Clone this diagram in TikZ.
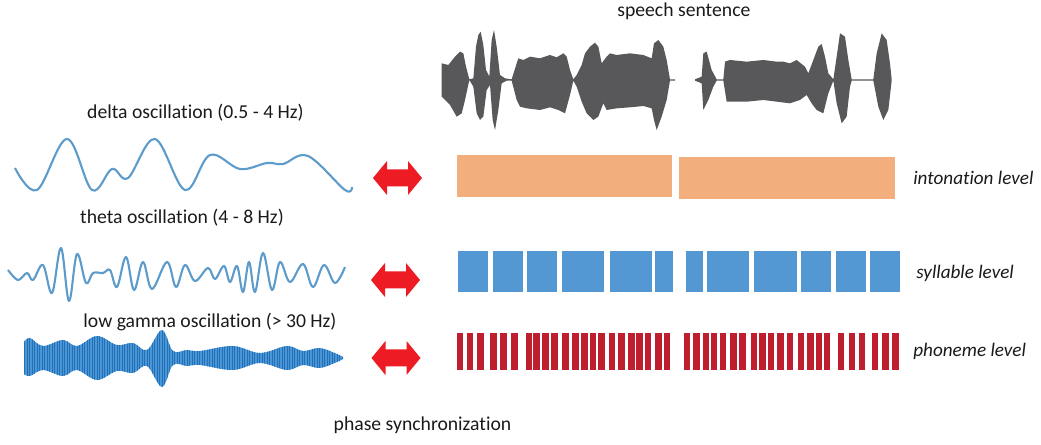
\documentclass[tikz,border=0pt]{standalone}
\usepackage{fontspec}
\setmainfont{Carlito}[Ligatures=NoCommon]
\definecolor{orangebar}{HTML}{F2AF7D}
\definecolor{bluebar}{HTML}{5498D3}
\definecolor{redbar}{HTML}{BE1E2D}
\definecolor{arrowred}{HTML}{ED1C24}
\definecolor{wavegray}{HTML}{58585A}
\definecolor{waveblue}{HTML}{5D9BCB}
\definecolor{gammalight}{HTML}{4A95D4}
\definecolor{gammadark}{HTML}{2370B8}
\definecolor{txt}{HTML}{1A1A1A}
\begin{document}
\begin{tikzpicture}[x=0.02cm,y=-0.02cm,
  lbl/.style={font=\fontsize{11.2}{13}\selectfont, text=txt, inner sep=0pt, anchor=base},
  lvl/.style={font=\fontsize{10.9}{13}\selectfont\itshape, text=txt, inner sep=0pt, anchor=base west},
  dbl/.pic={\fill[arrowred] (-24.5,0)--(-10.5,-17)--(-10.5,-8.5)--(10.5,-8.5)--(10.5,-17)--(24.5,0)--(10.5,17)--(10.5,8.5)--(-10.5,8.5)--(-10.5,17)--cycle;},
  osc/.style={draw=waveblue, line width=1.2pt, line join=round}]
\useasboundingbox (0,0) rectangle (1041,445);

% labels
\node[lbl, anchor=base west] (speech) at (617,16.7) {speech sentence};
\node[lbl] (delta) at (195.5,119) {delta oscillation (0.5 - 4 Hz)};
\node[lbl] (theta) at (182,224) {theta oscillation (4 - 8 Hz)};
\node[lbl] (gamma) at (210,328) {low gamma oscillation (> 30 Hz)};
\node[lbl] (phase) at (422.5,431) {phase synchronization};
\node[lvl] (inton) at (913,185) {intonation level};
\node[lvl] (syll) at (916,279) {syllable level};
\node[lvl] (phon) at (913,357) {phoneme level};

% speech waveform
\begin{scope}[shift={(430,20)}, scale=1/3]
\fill[wavegray] (35,130)--(55,135)--(75,110)--(90,95)--(100,100)--(108,140)--(118,178)--(130,175)--(138,80)--(145,45)--(152,35)--(160,75)--(168,150)--(178,170)--(185,60)--(192,30)--(200,80)--(210,165)--(225,175)--(245,178)--(260,130)--(265,115)--(280,120)--(300,110)--(330,115)--(360,105)--(380,112)--(400,100)--(410,110)--(420,150)--(430,178)--(440,165)--(455,135)--(465,100)--(480,80)--(495,68)--(505,80)--(515,130)--(530,110)--(540,100)--(560,105)--(600,100)--(640,105)--(665,115)--(672,70)--(685,60)--(700,80)--(710,120)--(720,178)--(735,178)
--(735,182)--(720,182)--(710,240)--(695,290)--(680,330)--(672,300)--(665,265)--(640,258)--(600,262)--(560,265)--(530,270)--(520,250)--(505,290)--(490,300)--(470,280)--(455,245)--(440,200)--(430,182)--(420,225)--(405,280)--(385,270)--(360,262)--(330,270)--(290,265)--(270,260)--(260,240)--(245,182)--(230,182)--(215,190)--(205,270)--(195,330)--(188,300)--(180,195)--(170,210)--(160,290)--(150,300)--(140,280)--(130,200)--(118,180)--(105,240)--(95,280)--(80,290)--(60,255)--(35,230)--cycle;
\fill[wavegray] (795,178)--(815,170)--(820,100)--(830,95)--(845,150)--(860,178)--(880,178)--(885,125)--(900,120)--(950,125)--(1000,120)--(1040,125)--(1060,125)--(1080,130)--(1100,120)--(1125,140)--(1135,160)--(1150,120)--(1165,80)--(1175,72)--(1185,110)--(1195,160)--(1210,178)--(1220,110)--(1230,40)--(1245,50)--(1255,120)--(1265,178)--(1330,178)--(1340,100)--(1355,40)--(1370,60)--(1380,130)--(1385,178)
--(1385,182)--(1375,270)--(1360,300)--(1345,260)--(1330,182)--(1265,182)--(1260,200)--(1250,290)--(1235,310)--(1220,250)--(1210,182)--(1195,220)--(1180,280)--(1160,270)--(1145,250)--(1130,225)--(1110,240)--(1080,250)--(1040,245)--(1000,240)--(950,245)--(890,245)--(880,182)--(860,182)--(850,200)--(835,240)--(820,270)--(815,190)--(795,182)--cycle;
\end{scope}

% intonation level
\fill[orangebar] (457,155) rectangle (672,197);
\fill[orangebar] (679,157) rectangle (895,199);

% syllable level
\foreach \a/\b in {458/488,493/523,527/557,562/604,610/652,655/673,686/703,707/749,754/797,801/831,836/866,870/900}
  \fill[bluebar] (\a,251) rectangle (\b,292);

% phoneme level
\foreach \z in {50,80,112,151,181,213,257,280,306,333,367,396,424,449,475,506,535,564,588,614,645,671,731,760,788,812,839,870,897,932,958,983,1011,1040,1073,1101,1127,1151,1193,1226,1256,1295,1327,1357}
  \fill[redbar] ({440+\z/3},333) rectangle ({440+\z/3+6.7},370);

% arrows
\pic at (397.5,178) {dbl};
\pic at (395.5,280) {dbl};
\pic at (396,358) {dbl};

% delta wave
\draw[osc] plot[smooth, tension=0.6] coordinates {(15,168) (37,190) (67,139) (92,190) (112,169) (128,178) (155,139) (185,190) (210,155) (240,169) (267,163) (283,164) (308,156) (345,190) (352,187)};

% theta wave
\draw[osc] plot[smooth, tension=0.6] coordinates {(8,270) (18,280) (27,273) (33,280) (43,265) (52,293) (61,248) (69,301) (77,254) (86,283) (93,273) (103,273) (110,270) (117,287) (126,257) (134,290) (143,262) (152,289) (167,262) (176,287) (185,265) (195,281) (208,268) (215,279) (224,266) (230,282) (237,266) (243,292) (249,262) (255,292) (263,253) (272,290) (280,262) (290,282) (303,264) (313,287) (324,265) (335,283) (345,267)};

% gamma wave
\def\gammaenv{plot[smooth, tension=0.6] coordinates {(24,342) (30,338) (43,346) (63,340) (77,346) (97,336) (117,345) (133,343) (147,350) (162,330) (173,351) (187,350) (200,351) (233,346) (260,353) (287,346) (303,351) (320,348) (337,354) (343,357)}
  -- plot[smooth, tension=0.6] coordinates {(343,359) (337,362) (320,368) (303,365) (287,370) (260,363) (233,370) (200,365) (187,366) (173,365) (162,387) (147,366) (133,373) (117,371) (97,380) (77,370) (63,376) (43,370) (30,376) (24,374)} -- cycle}
\fill[gammalight] \gammaenv;
\begin{scope}
\clip \gammaenv;
\foreach \x in {22,24.5,...,346} \draw[gammadark, line width=0.5pt] (\x,320) -- (\x,395);
\end{scope}
\end{tikzpicture}
\end{document}
